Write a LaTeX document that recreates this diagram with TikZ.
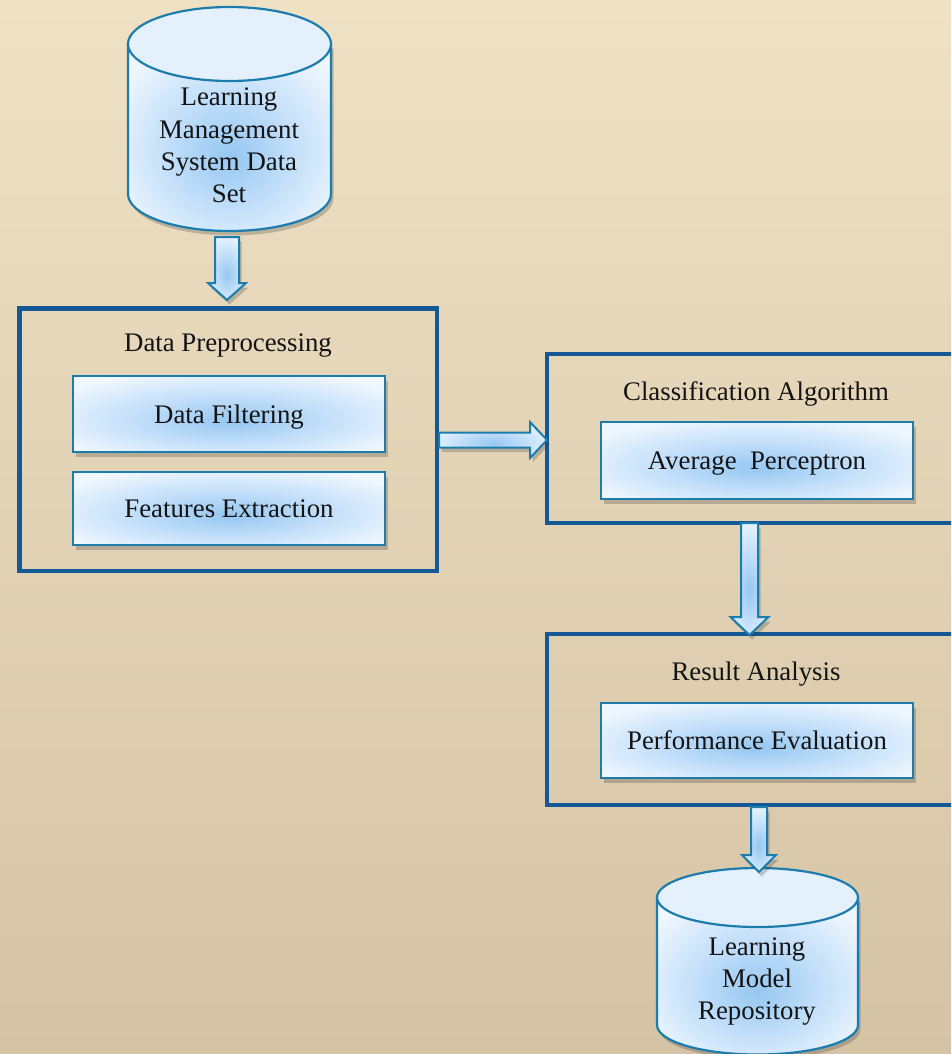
\documentclass[tikz,border=0pt]{standalone}
\usepackage{fontspec}
\setmainfont{Liberation Serif}
\usetikzlibrary{calc,shadows}

\definecolor{bgtop}{RGB}{239,225,196}
\definecolor{bgbot}{RGB}{213,195,165}
\definecolor{framecol}{RGB}{20,88,150}
\definecolor{edgecol}{RGB}{28,124,172}
\definecolor{glowlight}{RGB}{238,246,254}
\definecolor{glowmid}{RGB}{196,224,250}
\definecolor{glowdark}{RGB}{150,199,241}
\definecolor{caplight}{RGB}{228,241,253}
\definecolor{txtcol}{RGB}{20,20,20}

% light-blue glow, brightest towards the lower middle
\pgfdeclareradialshading{boxglow}{\pgfpoint{0bp}{-5bp}}{%
  color(0bp)=(glowdark); color(16bp)=(glowmid); color(31bp)=(glowlight); color(60bp)=(glowlight)}

% block arrow pointing down: start, tip, half shaft, half head, head length
\newcommand\arrowdown[5]{%
  \path[blkarrow] let \p1=(#1), \p2=(#2) in
    (\x2-#3,\y1) -- (\x2-#3,\y2+#5) -- (\x2-#4,\y2+#5) -- (\x2,\y2)
    -- (\x2+#4,\y2+#5) -- (\x2+#3,\y2+#5) -- (\x2+#3,\y1) -- cycle;}
% block arrow pointing right: start, tip, half shaft, half head, head length
\newcommand\arrowright[5]{%
  \path[blkarrow] let \p1=(#1), \p2=(#2) in
    (\x1,\y2-#3) -- (\x2-#5,\y2-#3) -- (\x2-#5,\y2-#4) -- (\x2,\y2)
    -- (\x2-#5,\y2+#4) -- (\x2-#5,\y2+#3) -- (\x1,\y2+#3) -- cycle;}

\tikzset{
  txt/.style={text=txtcol, font=\fontsize{26.8}{32.3}\selectfont, inner sep=0pt},
  softshadow/.style={drop shadow={shadow xshift=2.5pt, shadow yshift=-4.5pt,
      opacity=0.25, fill=black!80}},
  frame/.style={draw=framecol, line width=4.5pt, inner sep=0pt, outer sep=0pt},
  stepbox/.style={txt, draw=edgecol, line width=2.2pt, shade, shading=boxglow,
      minimum width=312pt, text height=18pt, text depth=0pt, outer sep=0pt,
      softshadow},
  blkarrow/.style={draw=edgecol, line width=2pt, shade, shading=boxglow, softshadow},
  drumbody/.style={draw=edgecol, line width=2.2pt, shade, shading=boxglow, softshadow},
  drumtop/.style={draw=edgecol, line width=2.2pt, fill=caplight},
}

\begin{document}
\begin{tikzpicture}[x=1pt, y=-1pt]
\useasboundingbox (0,0) rectangle (951,1054);
\shade[top color=bgtop, bottom color=bgbot] (0,0) rectangle (951,1054);
\clip (0,0) rectangle (951,1054);

% ---- source data store
\path[drumbody] (128,44) -- (128,194)
  arc[start angle=180, end angle=0, x radius=101.5, y radius=37] -- (331,44) -- cycle;
\path[drumtop] (229.5,44) ellipse [x radius=101.5, y radius=37];
\node[minimum width=203pt, minimum height=224pt, inner sep=0pt, outer sep=0pt] (db1) at (229.5,119) {};
\node[txt, align=center] (db1txt) at (229,145.5) {Learning\\Management\\System Data\\Set};

% ---- preprocessing stage
\node[frame, minimum width=417.5pt, minimum height=262.5pt] (dp) at (228.25,439.75) {};
\node[txt, anchor=base] (dpt) at (228,351) {Data Preprocessing};
\node[stepbox, minimum height=76pt] (df) at (229,414) {Data Filtering};
\node[stepbox, minimum height=73pt] (fe) at (229,508.5) {Features Extraction};

% ---- classification stage
\node[frame, minimum width=440pt, minimum height=169pt] (ca) at (767,438.5) {};
\node[txt, anchor=base] (cat) at (756,400) {Classification Algorithm};
\node[stepbox, minimum height=77pt] (ap) at (757,460.5) {Average~ Perceptron};

% ---- result stage
\node[frame, minimum width=440pt, minimum height=171pt] (ra) at (767,719.5) {};
\node[txt, anchor=base] (rat) at (756,680) {Result Analysis};
\node[stepbox, minimum height=75pt] (pe) at (757,740.5) {Performance Evaluation};

% ---- model repository
\path[drumbody] (657,897.5) -- (657,1025)
  arc[start angle=180, end angle=0, x radius=100.5, y radius=29.5] -- (858,897.5) -- cycle;
\path[drumtop] (757.5,897.5) ellipse [x radius=100.5, y radius=29.5];
\node[minimum width=201pt, minimum height=186.5pt, inner sep=0pt, outer sep=0pt] (db2) at (757.5,961.25) {};
\node[txt, align=center] (db2txt) at (757,981.5) {Learning\\Model\\Repository};

% ---- flow arrows
\arrowdown{$(db1.south)+(0,6)$}{$(dp.north)+(-1.25,-8.5)$}{12}{19}{17}
\arrowright{$(dp.east)+(2,0)$}{$(ca.west)+(0,1.5)$}{7.5}{18}{17}
\arrowdown{$(ca.south)$}{$(ra.north)+(-17.5,1)$}{8.5}{19}{18}
\arrowdown{$(ra.south)+(0,2)$}{$(db2.north)+(1.5,4)$}{8}{17}{17}
\end{tikzpicture}
\end{document}
